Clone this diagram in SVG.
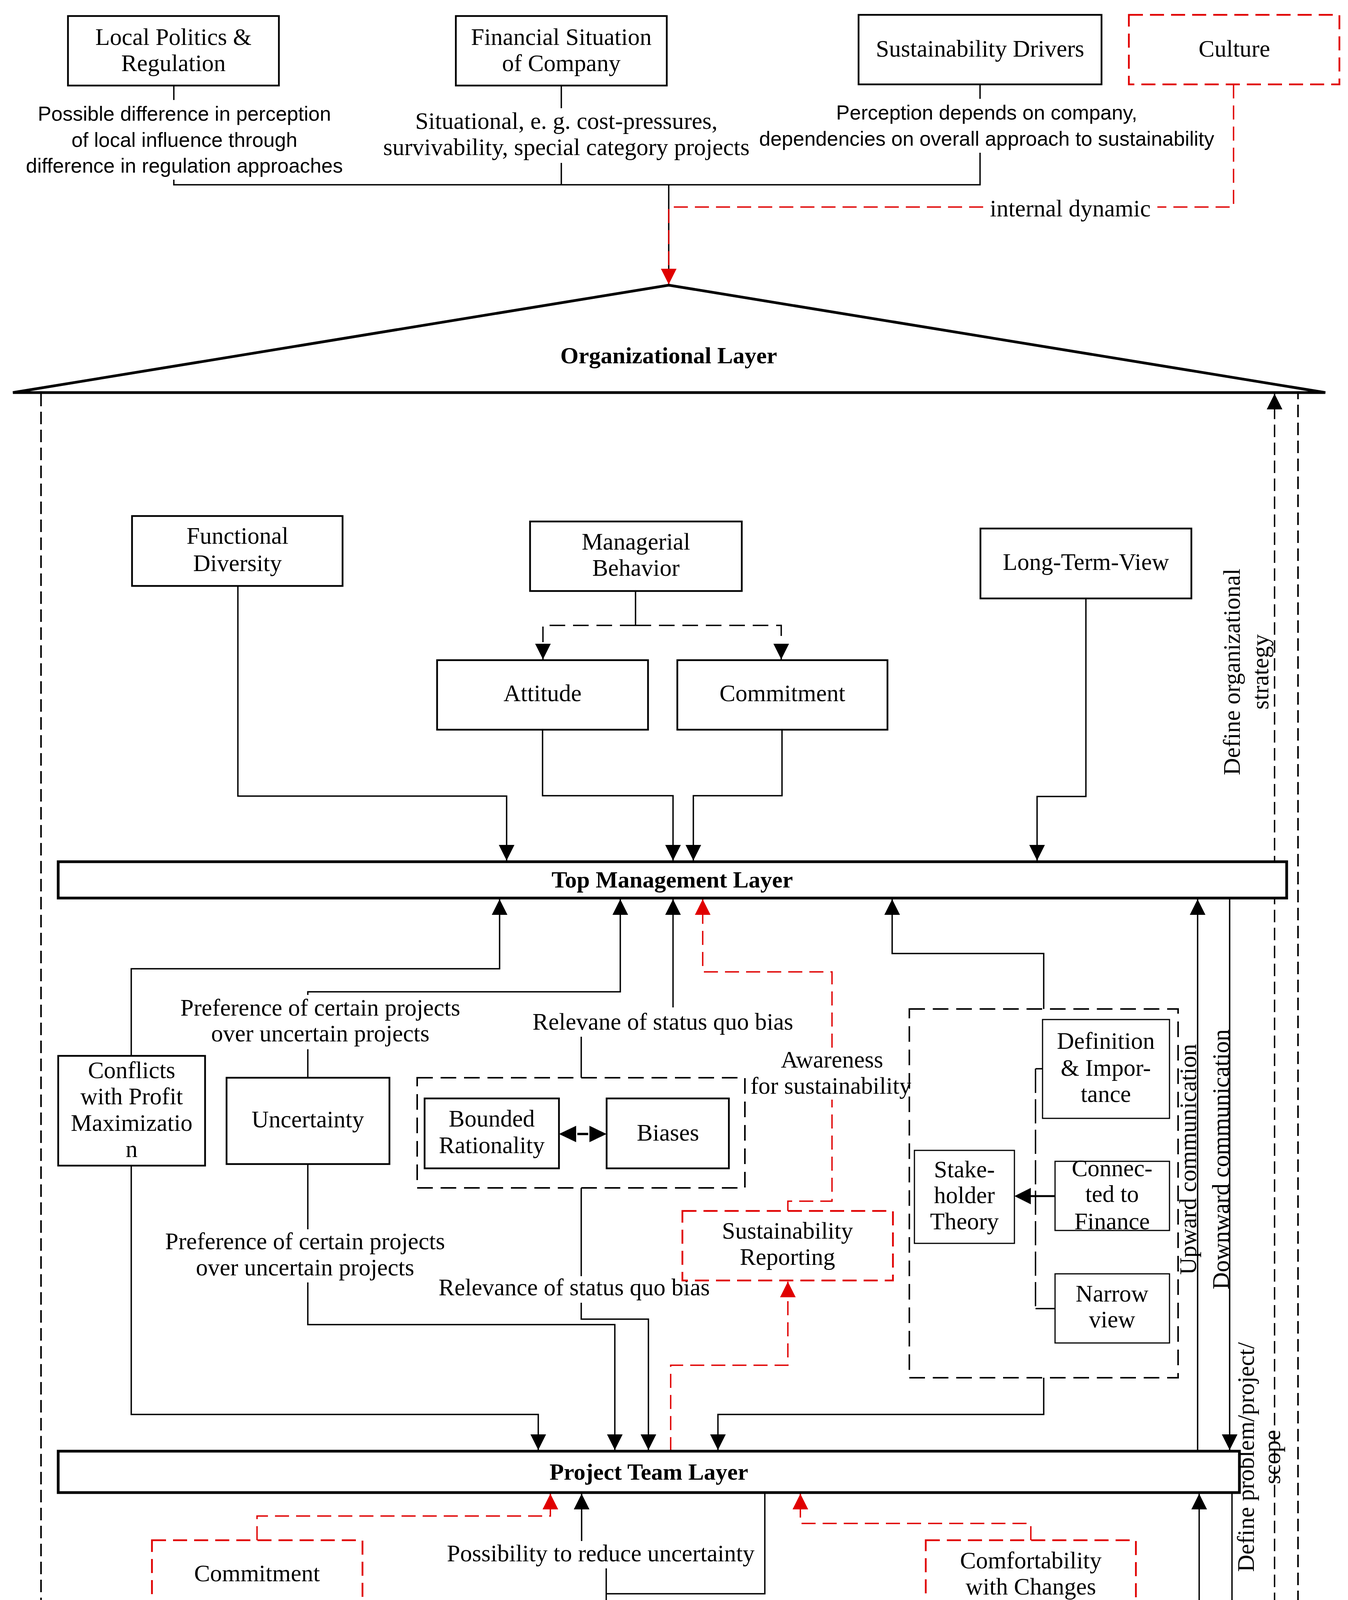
<svg xmlns="http://www.w3.org/2000/svg" width="3451" height="5688" viewBox="0 0 3451 5688">
<style>
.bg{fill:#fff}
.box{fill:#fff;stroke:#000;stroke-width:4.5}
.thin{fill:#fff;stroke:#000;stroke-width:3}
.layer{fill:#fff;stroke:#000;stroke-width:7}
.rbox{fill:#fff;stroke:#e00000;stroke-width:4.5;stroke-dasharray:36 18}
.grp{fill:none;stroke:#000;stroke-width:4;stroke-dasharray:40 20}
.dotb{fill:none;stroke:#000;stroke-width:3.5;stroke-dasharray:3 12}
.c{fill:none;stroke:#000;stroke-width:3.5}
.cr{fill:none;stroke:#e00000;stroke-width:3.5;stroke-dasharray:36 18}
.cd{fill:none;stroke:#000;stroke-width:3.5;stroke-dasharray:40 20}
.cdot{fill:none;stroke:#000;stroke-width:3.5;stroke-dasharray:3 12}
.frame{fill:none;stroke:#000;stroke-width:4;stroke-dasharray:32 14}
.t{font-family:"Liberation Serif","DejaVu Serif",serif;font-size:61px;text-anchor:middle;fill:#000}
.s{font-family:"Liberation Sans","DejaVu Sans",sans-serif;font-size:52px;text-anchor:middle;fill:#000}
.b{font-weight:bold;font-size:60px}
</style>
<defs>
<marker id="ah" markerUnits="userSpaceOnUse" markerWidth="42" markerHeight="42" refX="40" refY="20" orient="auto"><path d="M0,0 L40,20 L0,40 z" fill="#000" stroke="none"/></marker>
<marker id="ahr" markerUnits="userSpaceOnUse" markerWidth="42" markerHeight="42" refX="40" refY="20" orient="auto"><path d="M0,0 L40,20 L0,40 z" fill="#e00000" stroke="none"/></marker>
<marker id="ahs" markerUnits="userSpaceOnUse" markerWidth="42" markerHeight="42" refX="40" refY="20" orient="auto-start-reverse"><path d="M0,0 L40,20 L0,40 z" fill="#000" stroke="none"/></marker>
</defs>
<rect class="bg" x="0" y="0" width="3451" height="5688"/>

<g id="connectors">
  <!-- top external influences -->
  <path class="c" d="M445,219 V256"/>
  <path class="c" d="M445,460 V473 H2509 V391"/>
  <path class="c" d="M1437,219 V277"/>
  <path class="c" d="M1437,417 V473"/>
  <path class="c" d="M2509,216 V253"/>
  <path class="c" d="M1712,473 V700"/>
  <path class="cr" d="M3158,216 V530 H2963"/>
  <path class="cr" d="M2517,530 H1712 V728" marker-end="url(#ahr)"/>
  <text class="s" x="472" y="309">Possible difference in perception</text>
  <text class="s" x="472" y="376">of local influence through</text>
  <text class="s" x="472" y="442">difference in regulation approaches</text>
  <text class="t" x="1450" y="330">Situational, e. g. cost-pressures,</text>
  <text class="t" x="1450" y="397">survivability, special category projects</text>
  <text class="s" x="2526" y="306">Perception depends on company,</text>
  <text class="s" x="2526" y="373">dependencies on overall approach to sustainability</text>
  <text class="t" x="2740" y="554">internal dynamic</text>

  <!-- into top management layer -->
  <path class="c" d="M609,1500 V2038 H1297 V2203" marker-end="url(#ah)"/>
  <path class="c" d="M1627,1513 V1601"/>
  <path class="cd" d="M1627,1601 H1390 V1688" marker-end="url(#ah)"/>
  <path class="cd" d="M1627,1601 H2000 V1688" marker-end="url(#ah)"/>
  <path class="c" d="M1389,1868 V2037 H1723 V2203" marker-end="url(#ah)"/>
  <path class="c" d="M2002,1868 V2037 H1775 V2203" marker-end="url(#ah)"/>
  <path class="c" d="M2780,1532 V2039 H2655 V2203" marker-end="url(#ah)"/>

  <!-- between top management and project team layer -->
  <path class="c" d="M336,2703 V2480 H1279 V2302" marker-end="url(#ah)"/>
  <path class="c" d="M788,2759 V2686"/>
  <path class="c" d="M788,2547 V2539 H1588 V2302" marker-end="url(#ah)"/>
  <text class="t" x="820" y="2600">Preference of certain projects</text>
  <text class="t" x="820" y="2666">over uncertain projects</text>
  <path class="c" d="M1488,2759 V2654"/>
  <path class="c" d="M1723,2579 V2302" marker-end="url(#ah)"/>
  <text class="t" x="1697" y="2636">Relevane of status quo bias</text>
  <path class="cr" d="M2017,3100 V3075 H2130 V2815"/>
  <path class="cr" d="M2130,2682 V2488 H1799 V2302" marker-end="url(#ahr)"/>
  <text class="t" x="2130" y="2733">Awareness</text>
  <text class="t" x="2127" y="2800">for sustainability</text>
  <path class="c" d="M2672,2583 V2441 H2284 V2302" marker-end="url(#ah)"/>

  <path class="c" d="M336,2984 V3621 H1378 V3712" marker-end="url(#ah)"/>
  <path class="c" d="M788,2980 V3147"/>
  <path class="c" d="M788,3283 V3391 H1574 V3712" marker-end="url(#ah)"/>
  <text class="t" x="781" y="3198">Preference of certain projects</text>
  <text class="t" x="781" y="3265">over uncertain projects</text>
  <path class="c" d="M1488,3041 V3267"/>
  <path class="c" d="M1488,3335 V3377 H1660 V3712" marker-end="url(#ah)"/>
  <text class="t" x="1470" y="3316">Relevance of status quo bias</text>
  <path class="cr" d="M1717,3715 V3495 H2017 V3281" marker-end="url(#ahr)"/>
  <path class="c" d="M2672,3527 V3621 H1838 V3712" marker-end="url(#ah)"/>

  <!-- inside groups -->
  <path class="c" d="M1478,2903 H1506" style="stroke-width:6"/>
  <polygon points="1431,2903 1475,2882 1475,2924" fill="#000"/>
  <polygon points="1553,2903 1509,2882 1509,2924" fill="#000"/>
  <path class="c" d="M2669,2736 H2651"/>
  <path class="cd" d="M2651,2736 V3350" style="stroke-dasharray:62 16"/>
  <path class="c" d="M2651,3350 H2701"/>
  <path class="c" d="M2701,3062 H2636" style="stroke-width:5"/>
  <polygon points="2597,3062 2639,3041 2639,3083" fill="#000"/>

  <!-- communication lines -->
  <path class="c" d="M3066,3715 V2302" marker-end="url(#ah)"/>
  <path class="c" d="M3148,2299 V3712" marker-end="url(#ah)"/>
  <path class="cd" d="M3263,5397 V1008" marker-start="url(#ahs)" marker-end="url(#ahs)" style="stroke-dasharray:32 14"/>
  <text class="t" transform="translate(3174,1720) rotate(-90)">Define organizational</text>
  <text class="t" transform="translate(3247,1720) rotate(-90)">strategy</text>
  <text class="t" transform="translate(3210,3730) rotate(-90)">Define problem/project/</text>
  <text class="t" transform="translate(3277,3730) rotate(-90)">scope</text>
  <text class="t" transform="translate(3062,2968) rotate(-90)">Upward communication</text>
  <text class="t" transform="translate(3146,2968) rotate(-90)">Downward communication</text>

  <!-- below project team layer -->
  <path class="cr" d="M658,3943 V3881 H1409 V3824" marker-end="url(#ahr)"/>
  <path class="cr" d="M2639,3943 V3900 H2049 V3824" marker-end="url(#ahr)"/>
  <path class="c" d="M1489,3945 V3824" marker-end="url(#ah)"/>
  <path class="c" d="M1958,3821 V4080 H1552"/>
  <path class="c" d="M1552,4015 V4168" marker-end="url(#ah)"/>
  <text class="t" x="1538" y="3997">Possibility to reduce uncertainty</text>
  <path class="cd" d="M1255,4386 V4583"/>
  <path class="cd" d="M1024,4583 H1821"/>
  <path class="cd" d="M1024,4583 V4777" marker-end="url(#ah)"/>
  <path class="cd" d="M1821,4583 V4777" marker-end="url(#ah)"/>
  <path class="cd" d="M2002,4517 V4648 H1821"/>
  <path class="c" d="M1272,4927 H1548" style="stroke-width:9"/>
  <polygon points="1225,4927 1277,4902 1277,4952" fill="#000"/>
  <polygon points="1595,4927 1543,4902 1543,4952" fill="#000"/>
  <text class="t" x="1395" y="4798">Stronger link</text>
  <text class="t" x="1395" y="4865">needed</text>
  <path class="c" d="M1552,5115 V5186"/>
  <path class="c" d="M1723,5258 V5397" marker-end="url(#ah)"/>
  <text class="t" x="1558" y="5238">Possibility to better establish business cases</text>
  <path class="c" d="M430,4714 V5056 H697 V5397" marker-end="url(#ah)"/>
  <path class="cdot" d="M2639,4713 V4838"/>
  <path class="cdot" d="M2639,5068 V5106 H2382 V5397" marker-end="url(#ah)"/>
  <text class="t" x="2699" y="4901">General concept,</text>
  <text class="t" x="2699" y="4971">no immediate effect</text>
  <text class="t" x="2699" y="5040">on sustainability detectable</text>
  <path class="c" d="M3070,5400 V3824" marker-end="url(#ah)"/>
  <path class="c" d="M3154,3821 V5397" marker-end="url(#ah)"/>
  <text class="t" transform="translate(3067,4560) rotate(-90)">Project work</text>
  <text class="t" transform="translate(3150,4560) rotate(-90)">Project work</text>
</g>

<g id="local-politics"><rect class="box" x="174" y="41" width="540" height="178"/><text class="t" x="444" y="115">Local Politics &amp;</text><text class="t" x="444" y="182">Regulation</text></g>
<g id="financial-situation"><rect class="box" x="1167" y="41" width="540" height="178"/><text class="t" x="1437" y="115">Financial Situation</text><text class="t" x="1437" y="182">of Company</text></g>
<g id="sustainability-drivers"><rect class="box" x="2198" y="38" width="622" height="178"/><text class="t" x="2509" y="145">Sustainability Drivers</text></g>
<g id="culture"><rect class="rbox" x="2890" y="38" width="539" height="178"/><text class="t" x="3160" y="145">Culture</text></g>

<g id="organizational-layer">
  <path d="M33,1005 L1712,730 L3393,1005 Z" fill="none" stroke="#000" stroke-width="7" stroke-linejoin="miter"/>
  <path class="frame" d="M105,1008 V5662 H3323 V1008"/>
  <text class="t b" x="1712" y="930">Organizational Layer</text>
</g>

<g id="functional-diversity"><rect class="box" x="338" y="1321" width="539" height="179"/><text class="t" x="608" y="1392">Functional</text><text class="t" x="608" y="1462">Diversity</text></g>
<g id="managerial-behavior"><rect class="box" x="1357" y="1335" width="542" height="178"/><text class="t" x="1628" y="1407">Managerial</text><text class="t" x="1628" y="1474">Behavior</text></g>
<g id="attitude"><rect class="box" x="1119" y="1690" width="540" height="178"/><text class="t" x="1389" y="1795">Attitude</text></g>
<g id="commitment-top"><rect class="box" x="1734" y="1690" width="538" height="178"/><text class="t" x="2003" y="1795">Commitment</text></g>
<g id="long-term-view"><rect class="box" x="2510" y="1353" width="540" height="179"/><text class="t" x="2780" y="1459">Long-Term-View</text></g>

<g id="top-management-layer"><rect class="layer" x="149" y="2206" width="3145" height="93"/><text class="t b" x="1721" y="2272">Top Management Layer</text></g>

<g id="conflicts-profit"><rect class="box" x="149" y="2703" width="376" height="281"/><text class="t" x="337" y="2760">Conflicts</text><text class="t" x="337" y="2827">with Profit</text><text class="t" x="337" y="2895">Maximizatio</text><text class="t" x="337" y="2962">n</text></g>
<g id="uncertainty"><rect class="box" x="580" y="2759" width="417" height="221"/><text class="t" x="788" y="2886">Uncertainty</text></g>
<g id="biases-group"><rect class="grp" x="1068" y="2759" width="839" height="282"/></g>
<g id="bounded-rationality"><rect class="box" x="1087" y="2812" width="344" height="179"/><text class="t" x="1259" y="2884">Bounded</text><text class="t" x="1259" y="2952">Rationality</text></g>
<g id="biases"><rect class="box" x="1553" y="2812" width="313" height="179"/><text class="t" x="1710" y="2920">Biases</text></g>
<g id="sustainability-reporting"><rect class="rbox" x="1747" y="3100" width="539" height="178"/><text class="t" x="2016" y="3171">Sustainability</text><text class="t" x="2016" y="3238">Reporting</text></g>
<g id="stakeholder-group"><rect class="grp" x="2328" y="2583" width="688" height="944"/></g>
<g id="stakeholder-theory"><rect class="thin" x="2341" y="2945" width="256" height="238"/><text class="t" x="2469" y="3014">Stake-</text><text class="t" x="2469" y="3080">holder</text><text class="t" x="2469" y="3147">Theory</text></g>
<g id="definition-importance"><rect class="thin" x="2669" y="2610" width="325" height="253"/><text class="t" x="2831" y="2685">Definition</text><text class="t" x="2831" y="2754">&amp; Impor-</text><text class="t" x="2831" y="2821">tance</text></g>
<g id="connected-finance"><rect class="thin" x="2701" y="2973" width="293" height="177"/><text class="t" x="2847" y="3011">Connec-</text><text class="t" x="2847" y="3077">ted to</text><text class="t" x="2847" y="3147">Finance</text></g>
<g id="narrow-view"><rect class="thin" x="2701" y="3261" width="293" height="177"/><text class="t" x="2847" y="3332">Narrow</text><text class="t" x="2847" y="3398">view</text></g>

<g id="project-team-layer"><rect class="layer" x="149" y="3715" width="3024" height="106"/><text class="t b" x="1661" y="3788">Project Team Layer</text></g>

<g id="commitment-team"><rect class="rbox" x="389" y="3943" width="539" height="178"/><text class="t" x="658" y="4048">Commitment</text></g>
<g id="comfortability"><rect class="rbox" x="2370" y="3943" width="538" height="178"/><text class="t" x="2639" y="4015">Comfortability</text><text class="t" x="2639" y="4082">with Changes</text></g>
<g id="assessment-group"><rect class="grp" x="778" y="4170" width="1545" height="945"/></g>
<g id="project-assessment"><rect class="thin" x="1030" y="4209" width="452" height="177"/><text class="t" x="1256" y="4282">Project</text><text class="t" x="1256" y="4348">Assessment</text></g>
<g id="difficulty-quantify"><rect class="thin" x="1830" y="4303" width="346" height="214"/><text class="t" x="2003" y="4360">Difficulty</text><text class="t" x="2003" y="4427">to quantify</text><text class="t" x="2003" y="4494">benefits</text></g>
<g id="classic-appraisal"><rect class="thin" x="819" y="4780" width="406" height="290"/><text class="t" x="1022" y="4838">Use of classic</text><text class="t" x="1022" y="4907">appraisal</text><text class="t" x="1022" y="4974">tools, e. g.</text><text class="t" x="1022" y="5044">NPV, CBA</text></g>
<g id="special-frameworks"><rect class="thin" x="1595" y="4780" width="451" height="290"/><text class="t" x="1820" y="4874">Use of special</text><text class="t" x="1820" y="4941">sustainbility</text><text class="t" x="1820" y="5008">frameworks</text></g>
<g id="early-integration"><rect class="box" x="161" y="4500" width="540" height="214"/><text class="t" x="431" y="4588">Early integration</text><text class="t" x="431" y="4654">of sustainability</text></g>
<g id="resource-availability"><rect class="dotb" x="2371" y="4459" width="539" height="254"/><text class="t" x="2640" y="4503">Resource</text><text class="t" x="2640" y="4569">Availability/</text><text class="t" x="2640" y="4636">Competing</text><text class="t" x="2640" y="4703">Projects</text></g>

<g id="project-layer"><rect class="layer" x="149" y="5400" width="3145" height="110"/><text class="t b" x="1721" y="5474">Project Layer</text></g>
</svg>
